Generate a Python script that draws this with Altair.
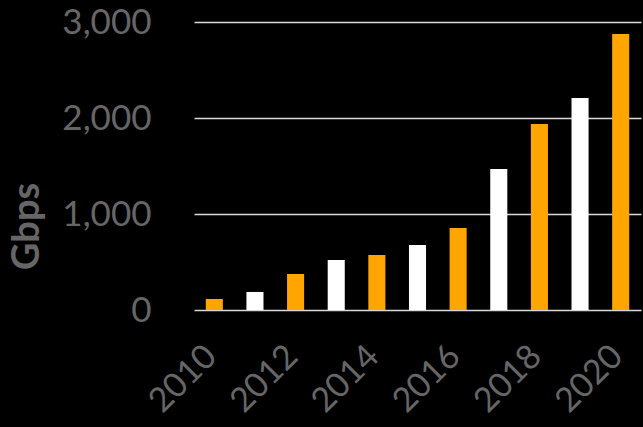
import altair as alt
import pandas as pd

years = ["2010", "2011", "2012", "2013", "2014", "2015", "2016", "2017", "2018", "2019", "2020"]
gbps = [115, 188, 375, 521, 573, 677, 854, 1469, 1938, 2208, 2875]
label_years = ["2010", "2012", "2014", "2016", "2018", "2020"]
y_ticks = [0, 1000, 2000, 3000]

df = pd.DataFrame({"year": years, "gbps": gbps})

FONT = "Lato"
GRAY = "#666666"

chart = alt.Chart(df).mark_bar().encode(
    x=alt.X("year:N", sort=years,
            scale=alt.Scale(paddingInner=0.58, paddingOuter=0.29),
            axis=alt.Axis(values=label_years, title=None, labelAngle=-45,
                          labelAlign="right", labelBaseline="middle",
                          labelPadding=41, labelOffset=-3, labelFontSize=34, labelFont=FONT,
                          labelColor=GRAY, ticks=False, domain=False,
                          grid=False, labelOverlap=False)),
    y=alt.Y("gbps:Q", scale=alt.Scale(domain=[0, 3000], nice=False),
            axis=alt.Axis(values=y_ticks, format=",.0f", title="Gbps",
                          titleFont=FONT, titleFontSize=38, titleFontWeight="bold",
                          titleColor=GRAY, titleAngle=270, titleX=-167, titleY=204,
                          titleAlign="center", titleBaseline="middle",
                          labelFont=FONT, labelFontSize=35, labelColor=GRAY,
                          labelPadding=43, ticks=False, domain=False,
                          grid=True, gridColor="#d9d9d9", gridWidth=1.5)),
    color=alt.condition("toNumber(datum.year) % 2 == 0",
                        alt.value("#FFA500"), alt.value("#FFFFFF")),
).properties(
    width=447, height=288,
    background="black",
    padding={"left": 194, "top": 22, "right": 2, "bottom": 117},
    autosize=alt.AutoSizeParams(type="none"),
).configure_view(stroke=None)

chart.save("out.html", embed_options={"renderer": "svg", "actions": False})
